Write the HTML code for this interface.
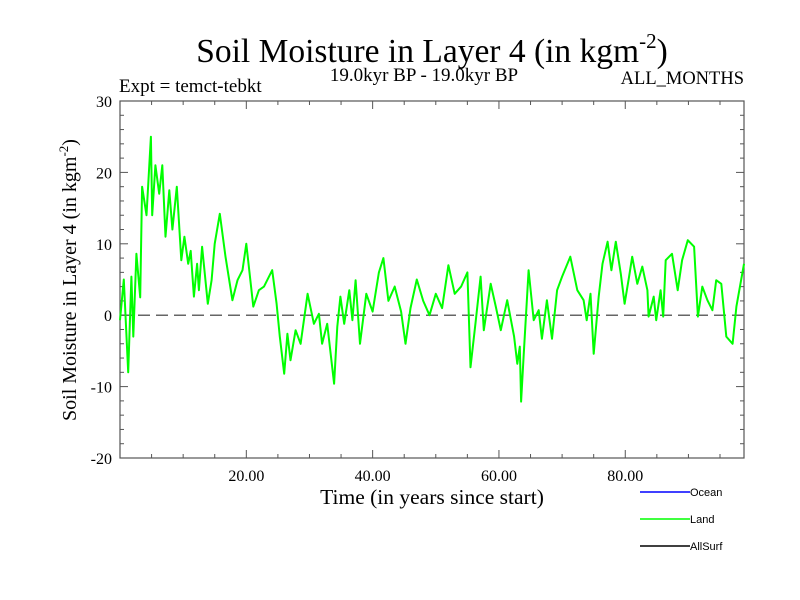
<!DOCTYPE html>
<html><head><meta charset="utf-8"><style>
body{margin:0;background:#fff;width:800px;height:600px;overflow:hidden}
svg{display:block;font-family:"Liberation Serif",serif}
</style></head><body>
<svg id="chart" width="800" height="600" viewBox="0 0 800 600" xmlns="http://www.w3.org/2000/svg">
<rect width="800" height="600" fill="#fff"/>
<text x="432" y="62" font-size="33.5" text-anchor="middle">Soil Moisture in Layer 4 (in kgm<tspan font-size="21" dy="-14">-2</tspan><tspan dy="14">)</tspan></text>
<text x="424" y="81" font-size="19" text-anchor="middle">19.0kyr BP - 19.0kyr BP</text>
<text x="119" y="92" font-size="19">Expt = temct-tebkt</text>
<text x="744" y="84" font-size="18.5" text-anchor="end">ALL_MONTHS</text>
<text transform="translate(76,280) rotate(-90)" font-size="20" text-anchor="middle">Soil Moisture in Layer 4 (in kgm<tspan font-size="13" dy="-8">-2</tspan><tspan dy="8">)</tspan></text>
<text x="432" y="504" font-size="21.5" text-anchor="middle">Time (in years since start)</text>
<g id="axes"></g>
<g id="series"></g>
<g font-family="Liberation Sans, sans-serif" font-size="11">
<line x1="640" y1="492" x2="690" y2="492" stroke="#0000ff" stroke-width="1.5"/>
<text x="690" y="496">Ocean</text>
<line x1="640" y1="519" x2="690" y2="519" stroke="#00ff00" stroke-width="1.5"/>
<text x="690" y="523">Land</text>
<line x1="640" y1="546" x2="690" y2="546" stroke="#000" stroke-width="1.5"/>
<text x="690" y="550">AllSurf</text>
</g>
</svg>
<script>
const years=[0,0.6,1.3,1.8,2.1,2.6,3.2,3.5,4.2,4.9,5.1,5.6,6.2,6.7,7.2,7.8,8.3,9,9.7,10.2,10.8,11.2,11.7,12.2,12.5,13,13.9,14.5,15,15.8,16.7,17.8,18.6,19.4,20,21.1,22,22.8,24.1,24.8,25.3,26,26.5,27,27.8,28.6,29.7,30.7,31.5,32,32.8,33.9,34.4,34.9,35.5,36.3,36.8,37.3,38,39,40,41,41.7,42.5,43.5,44.5,45.2,46,47,48,49,50,51,52,53,54,55,55.5,56.3,57.1,57.6,58.7,59.5,60.3,61.3,62.4,62.9,63.3,63.5,63.9,64.7,65.5,66.3,66.8,67.6,68.4,69.2,70,71.3,72.4,73.4,73.9,74.5,75,75.8,76.4,77.2,77.8,78.5,79.3,79.9,80.6,81.1,81.9,82.7,83.5,83.7,84.5,84.9,85.6,86,86.4,87.4,88.3,89,89.9,90.9,91.5,92.2,93,93.8,94.4,95.2,96,97,97.6,98.8];
const landValues=[-0.7,5,-8,5.4,-3,8.6,2.5,18,14,25,14,21,17,21,11,17.5,12,18,7.7,11,7.2,9,2.6,7.2,3.5,9.6,1.6,4.9,10,14.2,8.2,2.1,4.9,6.3,10,1.2,3.5,4,6.3,1.6,-3,-8.2,-2.6,-6.3,-2.1,-4,3,-1.2,0.2,-4,-1.2,-9.6,-1.6,2.6,-1.2,3.5,-0.7,4.9,-4,3,0.5,6,8,2,4,0.5,-4,1,5,2,0,3,1,7,3,4,6,-7.3,-1,5.4,-2.1,4.4,1.2,-2.1,2.1,-3,-6.8,-4.4,-12.1,-5.8,6.3,-0.7,0.7,-3.3,2.1,-3.3,3.5,5.4,8.2,3.5,2.1,-0.7,3,-5.4,2.6,7.2,10.3,6.3,10.3,5.8,1.6,5.4,8.2,4.4,6.8,3.5,-0.2,2.6,-0.7,3.5,-0.2,7.7,8.6,3.5,7.7,10.5,9.6,-0.2,4,2.1,0.7,4.9,4.4,-3,-4,1.2,7.2];
const yTicks=[-20,-10,0,10,20,30];
const xTicks=[20,40,60,80];
const xTickLabels=["20.00","40.00","60.00","80.00"];
const L=120,R=744,T=101,B=458,XMIN=0,XMAX=98.8,YMIN=-20,YMAX=30;
const sx=v=>L+(v-XMIN)/(XMAX-XMIN)*(R-L);
const sy=v=>B-(v-YMIN)/(YMAX-YMIN)*(B-T);
const NS="http://www.w3.org/2000/svg";
function mk(tag,attrs,parent){const e=document.createElementNS(NS,tag);for(const k in attrs)e.setAttribute(k,attrs[k]);parent.appendChild(e);return e;}
const ax=document.getElementById('axes');
const frame=mk('rect',{x:L,y:T,width:R-L,height:B-T,fill:'none',stroke:'#555','stroke-width':1.2},ax);


for(let v=YMIN;v<=YMAX;v+=2){const y=sy(v);const len=(v%10===0)?8:4;
 const t1=mk('line',{x1:L,y1:y,x2:L+len,y2:y,stroke:'#555'},ax);
 
 
 const t2=mk('line',{x1:R,y1:y,x2:R-len,y2:y,stroke:'#555'},ax);
 
 }
yTicks.forEach(v=>{const t=mk('text',{x:L-8,y:sy(v)+6,'font-size':16,'text-anchor':'end'},ax);t.textContent=v;
 
 });
for(let v=5;v<XMAX;v+=5){const x=sx(v);const len=(v%20===0)?8:4;
 const t1=mk('line',{x1:x,y1:B,x2:x,y2:B-len,stroke:'#555'},ax);
 
 
 const t2=mk('line',{x1:x,y1:T,x2:x,y2:T+len,stroke:'#555'},ax);
 
 }
xTicks.forEach((v,i)=>{const t=mk('text',{x:sx(v),y:B+23,'font-size':16,'text-anchor':'middle'},ax);t.textContent=xTickLabels[i];
 
 });
const zl=mk('line',{x1:L,y1:sy(0),x2:R,y2:sy(0),stroke:'#666','stroke-width':1.5,'stroke-dasharray':'12,6'},ax);


const sg=document.getElementById('series');
const p=mk('polyline',{points:years.map((x,i)=>sx(x).toFixed(1)+','+sy(landValues[i]).toFixed(1)).join(' '),fill:'none',stroke:'#00ff00','stroke-width':2,'stroke-linejoin':'round'},sg);


</script>
</body></html>
